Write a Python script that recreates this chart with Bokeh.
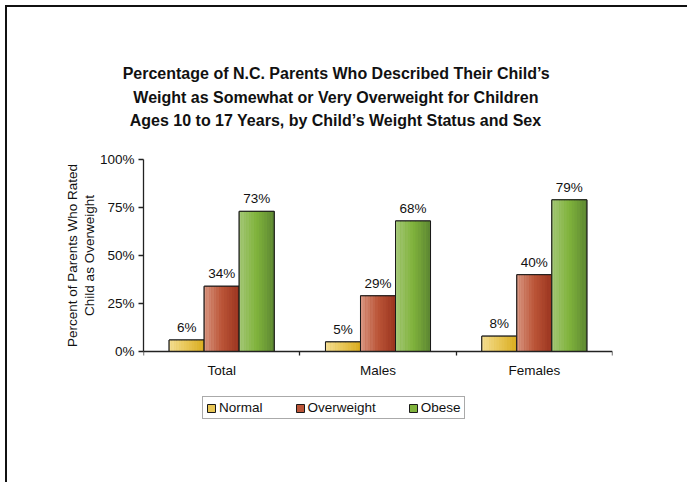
from bokeh.plotting import figure
from bokeh.models import ColumnDataSource, FixedTicker, Legend, LegendItem, Title
from bokeh.embed import file_html
from bokeh.resources import INLINE

# ---- data -------------------------------------------------------------
categories = ["Total", "Males", "Females"]
series = ["Normal", "Overweight", "Obese"]
normal = [6, 5, 8]
overweight = [34, 29, 40]
obese = [73, 68, 79]
y_ticks = [0, 25, 50, 75, 100]
y_tick_labels = ["0%", "25%", "50%", "75%", "100%"]

title_lines = [
    "Percentage of N.C. Parents Who Described Their Child\u2019s",
    "Weight as Somewhat or Very Overweight for Children",
    "Ages 10 to 17 Years, by Child\u2019s Weight Status and Sex",
]
y_label_lines = ["Percent of Parents Who Rated", "Child as Overweight"]

values = {"Normal": normal, "Overweight": overweight, "Obese": obese}

# horizontal gradient stops (left, middle, right) for each series
gradients = {
    "Normal": ("#f4de94", "#e8c656", "#d9ab1c"),
    "Overweight": ("#da9a85", "#bb5538", "#99331e"),
    "Obese": ("#a6c87a", "#80b33c", "#5b8532"),
}


def hex_to_rgb(h):
    h = h.lstrip("#")
    return tuple(int(h[i:i + 2], 16) for i in (0, 2, 4))


def mix(c1, c2, t):
    a, b = hex_to_rgb(c1), hex_to_rgb(c2)
    return "#%02x%02x%02x" % tuple(round(a[i] + (b[i] - a[i]) * t) for i in range(3))


def gradient_color(stops, t):
    left, mid, right = stops
    if t < 0.5:
        return mix(left, mid, t / 0.5)
    return mix(mid, right, (t - 0.5) / 0.5)


# advance widths of Liberation Sans (per 1000 em), used to centre the
# title lines and the axis-label lines where they belong
BOLD_W = {
    " ": 278, "\u2019": 278, ",": 278, ".": 278,
    "A": 722, "C": 722, "D": 722, "N": 722, "O": 778, "P": 667, "S": 667,
    "T": 611, "V": 667, "W": 944, "Y": 667,
    "a": 556, "b": 611, "c": 556, "d": 611, "e": 556, "f": 333, "g": 611,
    "h": 611, "i": 278, "l": 278, "m": 889, "n": 611, "o": 611, "r": 389,
    "s": 556, "t": 333, "u": 611, "v": 556, "w": 778, "x": 556, "y": 556,
}
REGULAR_W = {
    " ": 278, "C": 722, "O": 778, "P": 667, "R": 722, "W": 944,
    "a": 556, "c": 500, "d": 556, "e": 556, "f": 278, "g": 556, "h": 556,
    "i": 222, "l": 222, "n": 556, "o": 556, "r": 333, "s": 500, "t": 278,
    "v": 500, "w": 722,
}


def text_width(s, size, table):
    return sum(table.get(ch, 556) for ch in s) * size / 1000.0


# ---- layout (canvas pixels) -------------------------------------------
CANVAS_W, CANVAS_H = 680, 475
FRAME_LEFT, FRAME_W = 136, 469
FRAME_TOP, FRAME_BOTTOM = 137, 440     # frame spans the legend area too
ZERO_Y, HUNDRED_Y = 344, 152           # where 0% and 100% fall
PX = (ZERO_Y - HUNDRED_Y) / 100.0
y_start = -(FRAME_BOTTOM - ZERO_Y) / PX
y_end = 100 + (HUNDRED_Y - FRAME_TOP) / PX

TITLE_CENTER = 329
TITLE_SIZE = 16
LABEL_SIZE = 13.5
YLABEL_CENTER = (ZERO_Y + HUNDRED_Y) / 2

p = figure(
    frame_width=FRAME_W, frame_height=FRAME_BOTTOM - FRAME_TOP,
    min_border_left=FRAME_LEFT, min_border_right=CANVAS_W - FRAME_LEFT - FRAME_W,
    min_border_top=FRAME_TOP, min_border_bottom=CANVAS_H - FRAME_BOTTOM,
    x_range=(0, 3), y_range=(y_start, y_end),
    output_backend="svg", toolbar_location=None,
    background_fill_color="white", border_fill_color="white",
    margin=(5, 0, 0, 5),
    styles={"border-top": "2px solid #111", "border-left": "2px solid #111"},
)
p.outline_line_color = None
p.grid.grid_line_color = None

# blank gap between the frame and the title block
p.add_layout(Title(text=" ", text_font_size="10.5px", standoff=0), "above")

# title: one Title per line, nearest line to the frame added first
for i, line in enumerate(reversed(title_lines)):
    off = TITLE_CENTER - FRAME_LEFT - text_width(line, TITLE_SIZE, BOLD_W) / 2
    p.add_layout(Title(text=line, align="left", offset=off,
                       text_font="Liberation Sans",
                       text_font_size=f"{TITLE_SIZE}px",
                       text_font_style="bold", text_color="#111111",
                       standoff=(3 if i == 0 else 5)), "above")

n_cat = len(categories)
centers = [i + 0.5 for i in range(n_cat)]
bar_w = 0.224
offsets = {"Normal": -bar_w, "Overweight": 0.0, "Obese": bar_w}
n_strips = 14

legend_items = []
for name in series:
    xs = [c + offsets[name] for c in centers]
    vals = values[name]
    stops = gradients[name]
    # base bar (also used as the legend swatch)
    base = p.vbar(x=xs, top=vals, bottom=0, width=bar_w,
                  fill_color=stops[1], line_color="#1a1a1a", line_width=1)
    legend_items.append(LegendItem(label=name, renderers=[base]))
    # gradient strips
    sw = bar_w / n_strips
    for k in range(n_strips):
        t = (k + 0.5) / n_strips
        col = gradient_color(stops, t)
        sx = [x - bar_w / 2 + sw * (k + 0.5) for x in xs]
        p.vbar(x=sx, top=vals, bottom=0, width=sw * 1.04,
               fill_color=col, line_color=None)
    # outline on top
    p.vbar(x=xs, top=vals, bottom=0, width=bar_w,
           fill_color=None, line_color="#1a1a1a", line_width=1)
    # value labels
    src = ColumnDataSource(dict(x=xs, y=vals, t=[f"{v}%" for v in vals]))
    p.text(x="x", y="y", text="t", source=src, text_align="center",
           text_baseline="bottom", y_offset=-5, text_font_size=f"{LABEL_SIZE}px",
           text_font={"value": "Liberation Sans"}, text_color="#111111")

# ---- axes -------------------------------------------------------------
xa = p.xaxis[0]
xa.fixed_location = 0
xa.bounds = (0, 3)
xa.ticker = FixedTicker(ticks=centers, minor_ticks=[0, 1, 2, 3])
xa.major_label_overrides = {c: lab for c, lab in zip(centers, categories)}
xa.major_tick_out = 0
xa.major_tick_in = 0
xa.minor_tick_out = 4
xa.minor_tick_in = 0
xa.major_label_standoff = 7
xa.axis_line_color = "#222222"
xa.axis_line_width = 1.3
xa.minor_tick_line_color = "#222222"
xa.minor_tick_line_width = 1.3
xa.major_label_text_font = "Liberation Sans"
xa.major_label_text_font_size = f"{LABEL_SIZE}px"
xa.major_label_text_color = "#111111"

ya = p.yaxis[0]
ya.bounds = (0, 100)
ya.ticker = FixedTicker(ticks=y_ticks, minor_ticks=[])
ya.major_label_overrides = {v: lab for v, lab in zip(y_ticks, y_tick_labels)}
ya.major_tick_out = 5
ya.major_tick_in = 0
ya.minor_tick_out = 0
ya.minor_tick_in = 0
ya.major_label_standoff = 4
ya.axis_line_color = "#222222"
ya.axis_line_width = 1.3
ya.major_tick_line_color = "#222222"
ya.major_tick_line_width = 1.3
ya.major_label_text_font = "Liberation Sans"
ya.major_label_text_font_size = f"{LABEL_SIZE}px"
ya.major_label_text_color = "#111111"

# y-axis label, two lines centred on the 0-100% span of the axis
for i, line in enumerate(reversed(y_label_lines)):
    off = (FRAME_BOTTOM - YLABEL_CENTER) - text_width(line, LABEL_SIZE, REGULAR_W) / 2
    p.add_layout(Title(text=line, align="left", offset=off,
                       text_font="Liberation Sans",
                       text_font_size=f"{LABEL_SIZE}px",
                       text_font_style="normal", text_color="#111111",
                       standoff=0), "left")

# ---- legend (inside the frame, below the category axis) ----------------
legend = Legend(items=legend_items, orientation="horizontal",
                location=(59, 28), margin=0,
                glyph_width=10, glyph_height=10, label_standoff=3,
                spacing=32, padding=3, label_height=12,
                label_text_font="Liberation Sans",
                label_text_font_size=f"{LABEL_SIZE}px",
                label_text_color="#111111",
                border_line_color="#555555", border_line_width=1.2,
                background_fill_color="white", background_fill_alpha=1)
p.add_layout(legend, "center")

open("out.html", "w").write(file_html(p, INLINE))
